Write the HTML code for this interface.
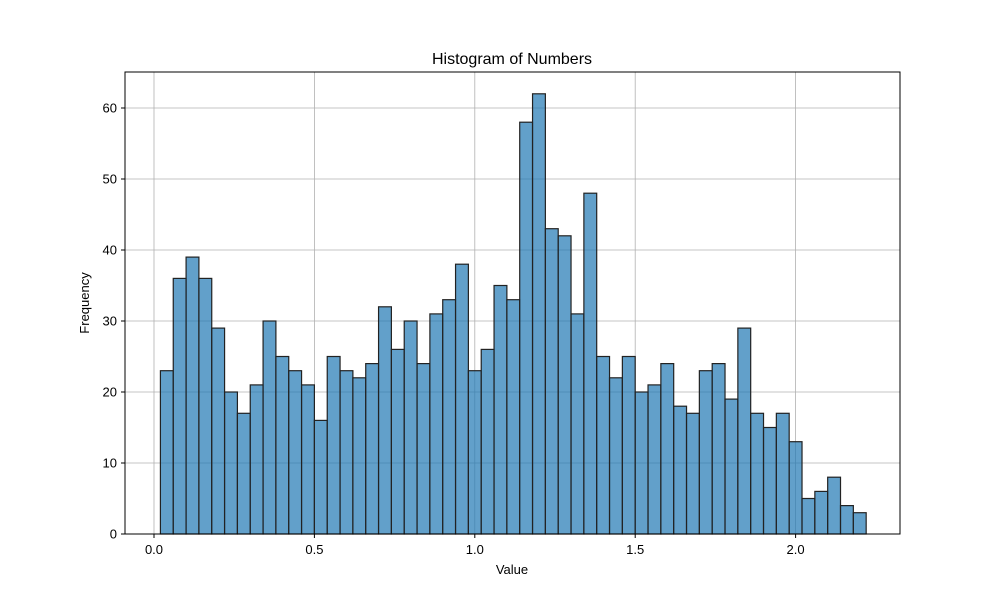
<!DOCTYPE html>
<html><head><meta charset="utf-8"><style>body{margin:0;background:#fff}svg{display:block;font-family:"Liberation Sans","DejaVu Sans",sans-serif}</style></head>
<body>
<svg id="chart" width="1000" height="600">
<rect x="0" y="0" width="1000" height="600" fill="#fff"/>
<text x="512" y="64" text-anchor="middle" font-size="16">Histogram of Numbers</text>
<g id="grid"></g><g id="bars"></g><g id="ticks"></g>
<rect x="125" y="72" width="775" height="462" fill="none" stroke="#000" stroke-width="1"/>
<text x="512" y="574" text-anchor="middle" font-size="13">Value</text>
<text transform="translate(89,303) rotate(-90)" text-anchor="middle" font-size="13">Frequency</text>
</svg>
<script>
const binStart = 0.02;
const binWidth = 0.04;
const counts = [23,36,39,36,29,20,17,21,30,25,23,21,16,25,23,22,24,32,26,30,24,31,33,38,23,26,35,33,58,62,43,42,31,48,25,22,25,20,21,24,18,17,23,24,19,29,17,15,17,13,5,6,8,4,3];
const xTicks = [0.0,0.5,1.0,1.5,2.0];
const xTickLabels = ["0.0","0.5","1.0","1.5","2.0"];
const yTicks = [0,10,20,30,40,50,60];
const NS="http://www.w3.org/2000/svg";
const X=v=>154+v*320.8;
const Y=v=>534-v*7.1;
function mk(t,a,p){const e=document.createElementNS(NS,t);for(const k in a)e.setAttribute(k,a[k]);p.appendChild(e);return e;}
const grid=document.getElementById('grid'),bars=document.getElementById('bars'),ticks=document.getElementById('ticks');
xTicks.forEach((v,i)=>{
 const g=mk('line',{x1:X(v),x2:X(v),y1:72,y2:534,stroke:'#b0b0b0','stroke-width':0.8},grid);
 
 
 mk('line',{x1:X(v),x2:X(v),y1:534,y2:538,stroke:'#000'},ticks);
 const t=mk('text',{x:X(v),y:554,'text-anchor':'middle','font-size':13},ticks);
 t.textContent=xTickLabels[i];
 
 
});
yTicks.forEach(v=>{
 const g=mk('line',{x1:125,x2:900,y1:Y(v),y2:Y(v),stroke:'#b0b0b0','stroke-width':0.8},grid);
 
 
 mk('line',{x1:121,x2:125,y1:Y(v),y2:Y(v),stroke:'#000'},ticks);
 const t=mk('text',{x:117,y:Y(v)+4.5,'text-anchor':'end','font-size':13},ticks);
 t.textContent=v;
 
 
});
counts.forEach((c,i)=>{
 const x0=X(binStart+i*binWidth),x1=X(binStart+(i+1)*binWidth);
 const r=mk('rect',{x:x0,y:Y(c),width:x1-x0,height:Y(0)-Y(c),fill:'rgba(31,119,180,0.7)',stroke:'#222','stroke-width':1.2},bars);
 
 
});
</script>
</body></html>
